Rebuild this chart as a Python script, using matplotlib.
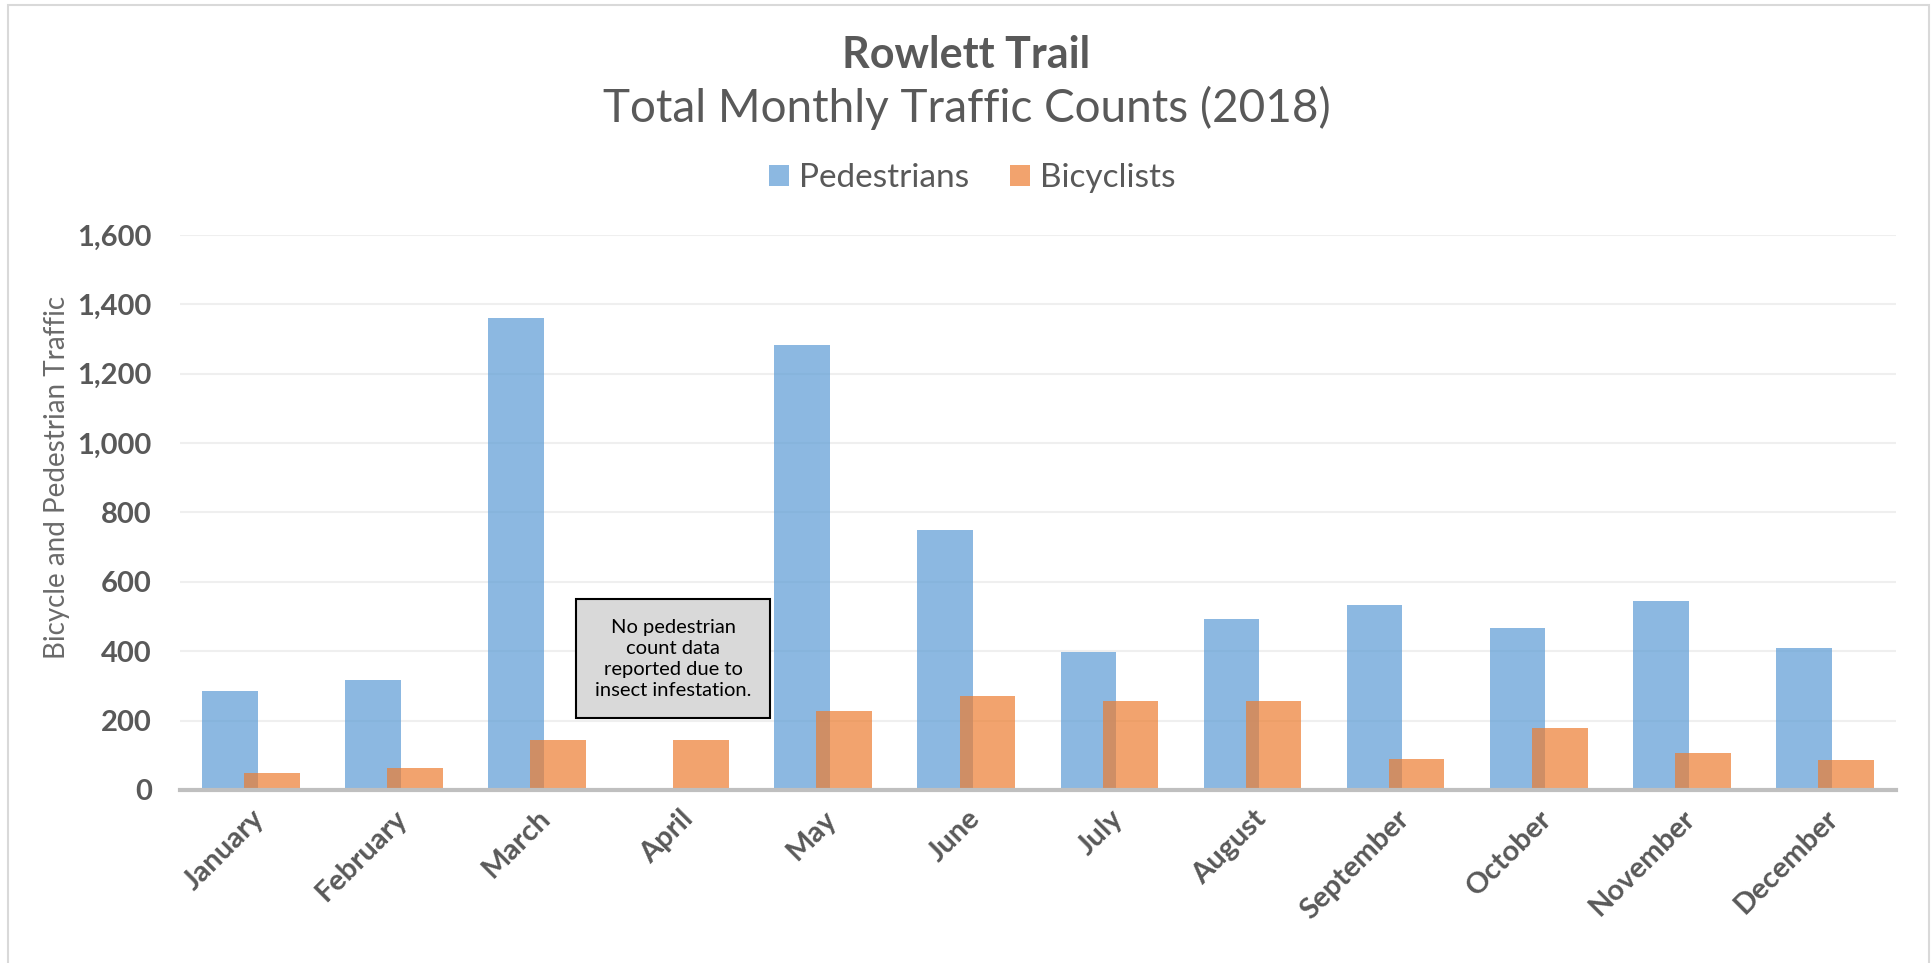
import numpy as np
import matplotlib.pyplot as plt
from matplotlib.patches import Rectangle, Patch

# Data
months = ["January", "February", "March", "April", "May", "June",
          "July", "August", "September", "October", "November", "December"]
pedestrians = [285, 317, 1360, 0, 1282, 748, 398, 494, 532, 466, 546, 410]
bicyclists = [48, 62, 143, 145, 228, 272, 256, 256, 90, 180, 106, 86]
y_ticks = [0, 200, 400, 600, 800, 1000, 1200, 1400, 1600]

TEXT = "#595959"
BLUE = "#5B9BD5"
ORANGE = "#ED7D31"
FONT = "Lato"

plt.rcParams["font.family"] = [FONT, "DejaVu Sans"]

fig = plt.figure(figsize=(19.33, 9.63), dpi=100)
ax = fig.add_axes([0.0929, 0.1797, 0.8881, 0.5763])

x = np.arange(len(months))
width = 0.39
offset = 0.147
ax.bar(x - offset, pedestrians, width, color=BLUE, alpha=0.7, zorder=2)
ax.bar(x + offset, bicyclists, width, color=ORANGE, alpha=0.7, zorder=3)

ax.set_xlim(-0.5, len(months) - 0.5)
ax.set_ylim(0, 1600)
ax.set_yticks(y_ticks)
ax.set_yticklabels([f"{v:,}" for v in y_ticks], fontsize=21, fontweight="bold", color=TEXT)
ax.set_xticks(x)
ax.set_xticklabels(months, rotation=45, ha="right", rotation_mode="anchor",
                   fontsize=21, fontweight="bold", color=TEXT)
ax.tick_params(axis="y", length=0, pad=20)
ax.tick_params(axis="x", length=0, pad=11)

ax.grid(axis="y", color="#EFEFEF", linewidth=1.5, zorder=0)
for side in ["top", "right", "left"]:
    ax.spines[side].set_visible(False)
ax.spines["bottom"].set_color("#BFBFBF")
ax.spines["bottom"].set_linewidth(3)
ax.spines["bottom"].set_zorder(4)

ax.set_ylabel("Bicycle and Pedestrian Traffic", fontsize=20, color="#6A6A6A")
ax.yaxis.set_label_coords(-0.064, 0.564)

ax.text(2.95, 378, "No pedestrian\ncount data\nreported due to\ninsect infestation.",
        ha="center", va="center", fontsize=14.5, color="black", linespacing=1.3,
        bbox=dict(boxstyle="square,pad=0.95", facecolor="#D9D9D9", edgecolor="black",
                  linewidth=1.5), zorder=5)

fig.text(0.5, 0.943, "Rowlett Trail", ha="center", va="center", fontsize=31,
         fontweight="bold", color=TEXT)
fig.text(0.5, 0.888, "Total Monthly Traffic Counts (2018)", ha="center", va="center",
         fontsize=33, color=TEXT)

handles = [Patch(facecolor=BLUE, alpha=0.7, label="Pedestrians"),
           Patch(facecolor=ORANGE, alpha=0.7, label="Bicyclists")]
leg = fig.legend(handles=handles, loc="center", bbox_to_anchor=(0.503, 0.815), ncol=2,
                 frameon=False, fontsize=24, handlelength=0.6, handleheight=0.6,
                 handletextpad=0.3, columnspacing=1.2)
for t in leg.get_texts():
    t.set_color(TEXT)

fig.patches.append(Rectangle((0.004, -0.01), 0.994, 1.005, transform=fig.transFigure,
                             fill=False, edgecolor="#D9D9D9", linewidth=1.5))

fig.savefig("out.png", dpi=100)
